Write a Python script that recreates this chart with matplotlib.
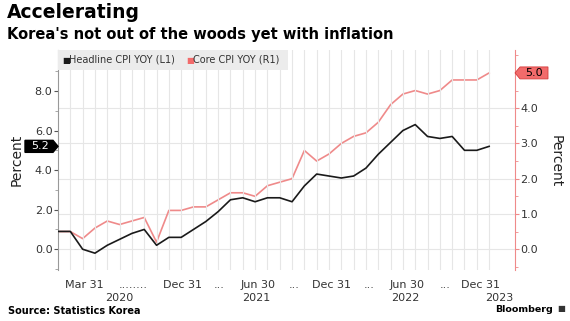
import numpy as np
import matplotlib
matplotlib.use("Agg")
import matplotlib.pyplot as plt
from matplotlib.patches import Polygon, Rectangle
from matplotlib.transforms import blended_transform_factory

# monthly readings, Feb 2020 .. Jan 2023
headline = [0.9, 0.9, 0.0, -0.2, 0.2, 0.5, 0.8, 1.0, 0.2, 0.6, 0.6, 1.0,
            1.4, 1.9, 2.5, 2.6, 2.4, 2.6, 2.6, 2.4, 3.2, 3.8, 3.7, 3.6,
            3.7, 4.1, 4.8, 5.4, 6.0, 6.3, 5.7, 5.6, 5.7, 5.0, 5.0, 5.2]
core = [0.5, 0.5, 0.3, 0.6, 0.8, 0.7, 0.8, 0.9, 0.2, 1.1, 1.1, 1.2,
        1.2, 1.4, 1.6, 1.6, 1.5, 1.8, 1.9, 2.0, 2.8, 2.5, 2.7, 3.0,
        3.2, 3.3, 3.6, 4.1, 4.4, 4.5, 4.4, 4.5, 4.8, 4.8, 4.8, 5.0]

xlabels = ["Mar 31", "........", "Dec 31", "...", "Jun 30", "...",
           "Dec 31", "...", "Jun 30", "...", "Dec 31"]
xlabel_pos = [2.1, 6.1, 10.1, 13.1, 16.2, 19.2, 22.2, 25.3, 28.3, 31.4, 34.3]
years = ["2020", "2021", "2022", "2023"]
year_pos = [5.0, 16.1, 28.2, 35.8]

BLACK = "#1a1a1a"
RED = "#ef8a8a"
RED_TAG = "#f26b6b"
W, H = 570, 321

fig = plt.figure(figsize=(W / 100, H / 100), dpi=100)
fig.patch.set_facecolor("white")
ax = fig.add_axes([58 / W, (H - 270) / H, (515 - 58) / W, 220 / H])
ax2 = ax.twinx()

x = np.arange(len(headline))
ax.set_xlim(0, 37.1)
ax.set_ylim(-1.05, 10.07)
ax2.set_ylim(-0.59, 5.65)

# grid: vertical each month, horizontal from right axis
ax.set_xticks(x[1:])
ax.tick_params(axis="x", length=0, labelbottom=False)
ax.grid(axis="x", color="#e6e6e6", lw=0.8)
ax2.grid(axis="y", color="#e6e6e6", lw=0.8)
ax.set_axisbelow(True)
ax2.set_axisbelow(True)

ax2.plot(x, core, color=RED, lw=1.2, zorder=3)
ax.plot(x, headline, color=BLACK, lw=1.2, zorder=4)
ax.set_zorder(ax2.get_zorder() + 1)
ax.patch.set_visible(False)

for s in ["top", "bottom", "right"]:
    ax.spines[s].set_visible(False)
for s in ["top", "bottom", "left"]:
    ax2.spines[s].set_visible(False)
ax.spines["left"].set_color("#999999")
ax2.spines["right"].set_color(RED)

ax.set_yticks([0, 2, 4, 6, 8])
ax.set_yticklabels(["0.0", "2.0", "4.0", "6.0", "8.0"])
ax.set_yticks([-1, 1, 3, 5, 7, 9], minor=True)
ax.tick_params(axis="y", which="major", length=3, color="#555555",
               labelsize=8, labelcolor="#333333", pad=1)
ax.tick_params(axis="y", which="minor", length=2, color="#999999")
ax.grid(axis="y", visible=False)

ax2.set_yticks([0, 1, 2, 3, 4])
ax2.set_yticklabels(["0.0", "1.0", "2.0", "3.0", "4.0"])
ax2.set_yticks([-0.5, 0.5, 1.5, 2.5, 3.5, 4.5, 5.5], minor=True)
ax2.tick_params(axis="y", which="major", length=3, color=RED,
                labelsize=8, labelcolor="#333333", pad=1)
ax2.tick_params(axis="y", which="minor", length=2, color=RED)

fig.text(17 / W, 1 - 160 / H, "Percent", rotation=90, fontsize=10,
         ha="center", va="center", color="#222222")
fig.text(556 / W, 1 - 161 / H, "Percent", rotation=270, fontsize=10,
         ha="center", va="center", color="#222222")

# x labels
tr = blended_transform_factory(ax.transData, ax.transAxes)
for lab, p in zip(xlabels, xlabel_pos):
    ax.text(p, -0.045, lab, transform=tr, ha="center", va="top",
            fontsize=8, color="#333333")
for lab, p in zip(years, year_pos):
    ax.text(p, -0.105, lab, transform=tr, ha="center", va="top",
            fontsize=8, color="#333333")

# legend band
ax.add_patch(Rectangle((0, 1 - 20 / 220), (288 - 58) / 457, 20 / 220,
                       transform=ax.transAxes, facecolor="#ececec",
                       edgecolor="none", zorder=5, clip_on=False))
ax.text(4 / 457, 1 - 10 / 220, "\u25a0", transform=ax.transAxes, fontsize=6,
        color=BLACK, va="center", zorder=6)
ax.text(11 / 457, 1 - 10 / 220, "Headline CPI YOY (L1)", transform=ax.transAxes,
        fontsize=7, color="#333333", va="center", zorder=6)
ax.text(128 / 457, 1 - 10 / 220, "\u25a0", transform=ax.transAxes, fontsize=6,
        color=RED_TAG, va="center", zorder=6)
ax.text(135 / 457, 1 - 10 / 220, "Core CPI YOY (R1)", transform=ax.transAxes,
        fontsize=7, color="#333333", va="center", zorder=6)

# value tags
last_h = headline[-1]
tl = blended_transform_factory(ax.transAxes, ax.transData)
dh = 6 / 19.8
ax.add_patch(Polygon([(-33 / 457, last_h - dh), (-5 / 457, last_h - dh),
                      (0, last_h), (-5 / 457, last_h + dh),
                      (-33 / 457, last_h + dh)], closed=True,
                     transform=tl, facecolor="black", edgecolor="black",
                     clip_on=False, zorder=7))
ax.text(-18 / 457, last_h, f"{last_h:.1f}", transform=tl, ha="center",
        va="center", color="white", fontsize=8, zorder=8)

last_c = core[-1]
tr2 = blended_transform_factory(ax2.transAxes, ax2.transData)
dc = 6 / 35.3
ax2.add_patch(Polygon([(1, last_c), (1 + 5 / 457, last_c - dc),
                       (1 + 33 / 457, last_c - dc), (1 + 33 / 457, last_c + dc),
                       (1 + 5 / 457, last_c + dc)], closed=True,
                      transform=tr2, facecolor=RED_TAG, edgecolor="#d43c3c",
                      lw=0.6, clip_on=False, zorder=7))
ax2.text(1 + 19 / 457, last_c, f"{last_c:.1f}", transform=tr2, ha="center",
         va="center", color="black", fontsize=8, zorder=8)

# titles and footer
fig.text(7 / W, 1 - 3 / H, "Accelerating", fontsize=13.5, fontweight="bold",
         ha="left", va="top", color="black")
fig.text(7 / W, 1 - 27 / H, "Korea's not out of the woods yet with inflation",
         fontsize=10.5, fontweight="bold", ha="left", va="top", color="black")
fig.text(8 / W, 1 - 311 / H, "Source: Statistics Korea", fontsize=7,
         fontweight="bold", ha="left", va="center", color="black")
fig.text(553 / W, 1 - 309 / H, "Bloomberg", fontsize=6.8,
         fontweight="bold", ha="right", va="center", color="black")
fig.text(557 / W, 1 - 309 / H, "\u25a0", fontsize=6, ha="left",
         va="center", color="#333333")

fig.savefig("out.png", dpi=100)
